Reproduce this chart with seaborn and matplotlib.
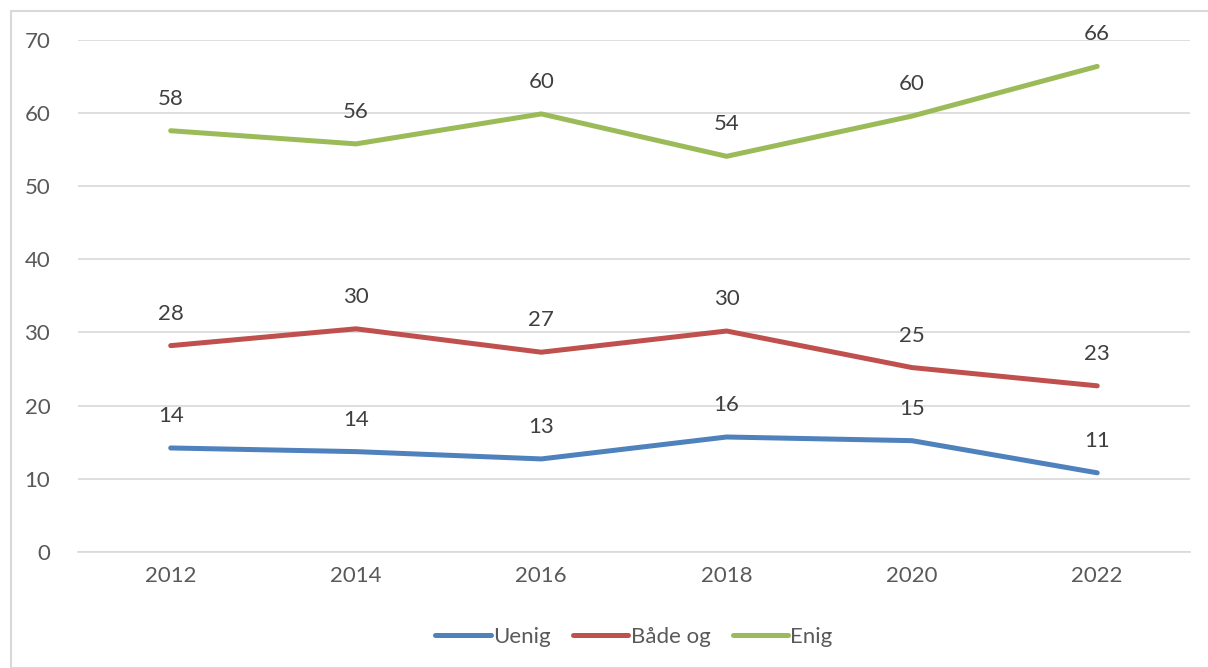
import matplotlib
matplotlib.use("Agg")
import matplotlib.pyplot as plt
import seaborn as sns
import pandas as pd
from matplotlib.patches import Rectangle

# -------- data --------
years = ["2012", "2014", "2016", "2018", "2020", "2022"]
uenig = [14.2, 13.7, 12.7, 15.7, 15.2, 10.8]
baade_og = [28.2, 30.5, 27.3, 30.2, 25.2, 22.7]
enig = [57.6, 55.8, 59.9, 54.1, 59.6, 66.4]
series_names = ["Uenig", "Både og", "Enig"]
colors = ["#4F81BD", "#C0504D", "#9BBB59"]

df = pd.DataFrame({"year": years, "Uenig": uenig, "Både og": baade_og, "Enig": enig})
long_df = df.melt(id_vars="year", var_name="serie", value_name="verdi")

sns.set_theme(style="white")
plt.rcParams["font.family"] = ["Lato", "DejaVu Sans"]
FS = 16

fig = plt.figure(figsize=(12.08, 6.68), dpi=100)
ax = fig.add_axes([0.0646, 0.174, 0.985 - 0.0646, 0.766])

sns.lineplot(data=long_df, x="year", y="verdi", hue="serie", hue_order=series_names,
             palette=colors, linewidth=3.6, sort=False, ax=ax, legend=True)
for line in ax.lines:
    line.set_solid_capstyle("round")

# data labels above points
for name in series_names:
    for i, v in enumerate(df[name]):
        ax.annotate(f"{v:.0f}", (i, v), xytext=(0, 23), textcoords="offset points",
                    ha="center", va="center", fontsize=FS, color="#404040")

ax.set_xlim(-0.5, len(years) - 0.5)
ax.set_ylim(0, 70)
ax.set_yticks(range(0, 71, 10))
ax.yaxis.grid(True, color="#D9D9D9", linewidth=1.2)
ax.set_axisbelow(True)
for s in ["top", "right", "left"]:
    ax.spines[s].set_visible(False)
ax.spines["bottom"].set_color("#D9D9D9")
ax.spines["bottom"].set_linewidth(1.2)
ax.tick_params(axis="both", length=0, labelsize=FS, labelcolor="#595959", pad=10)
ax.tick_params(axis="y", pad=20)
ax.set_xlabel("")
ax.set_ylabel("")

handles, labels = ax.get_legend_handles_labels()
leg = ax.legend(handles, labels, loc="center", bbox_to_anchor=(0.5, -0.167), ncol=3,
                frameon=False, fontsize=FS, handlelength=2.5, handletextpad=0.1,
                columnspacing=1.0)
for t in leg.get_texts():
    t.set_color("#595959")
for h in leg.get_lines():
    h.set_linewidth(3.6)
    h.set_solid_capstyle("round")

# chart border
fig.patches.append(Rectangle((11 / 1208, 0), 1.2, 1 - 11 / 668, transform=fig.transFigure,
                             fill=False, edgecolor="#D9D9D9", linewidth=1.5))

fig.savefig("out.png", dpi=100)
